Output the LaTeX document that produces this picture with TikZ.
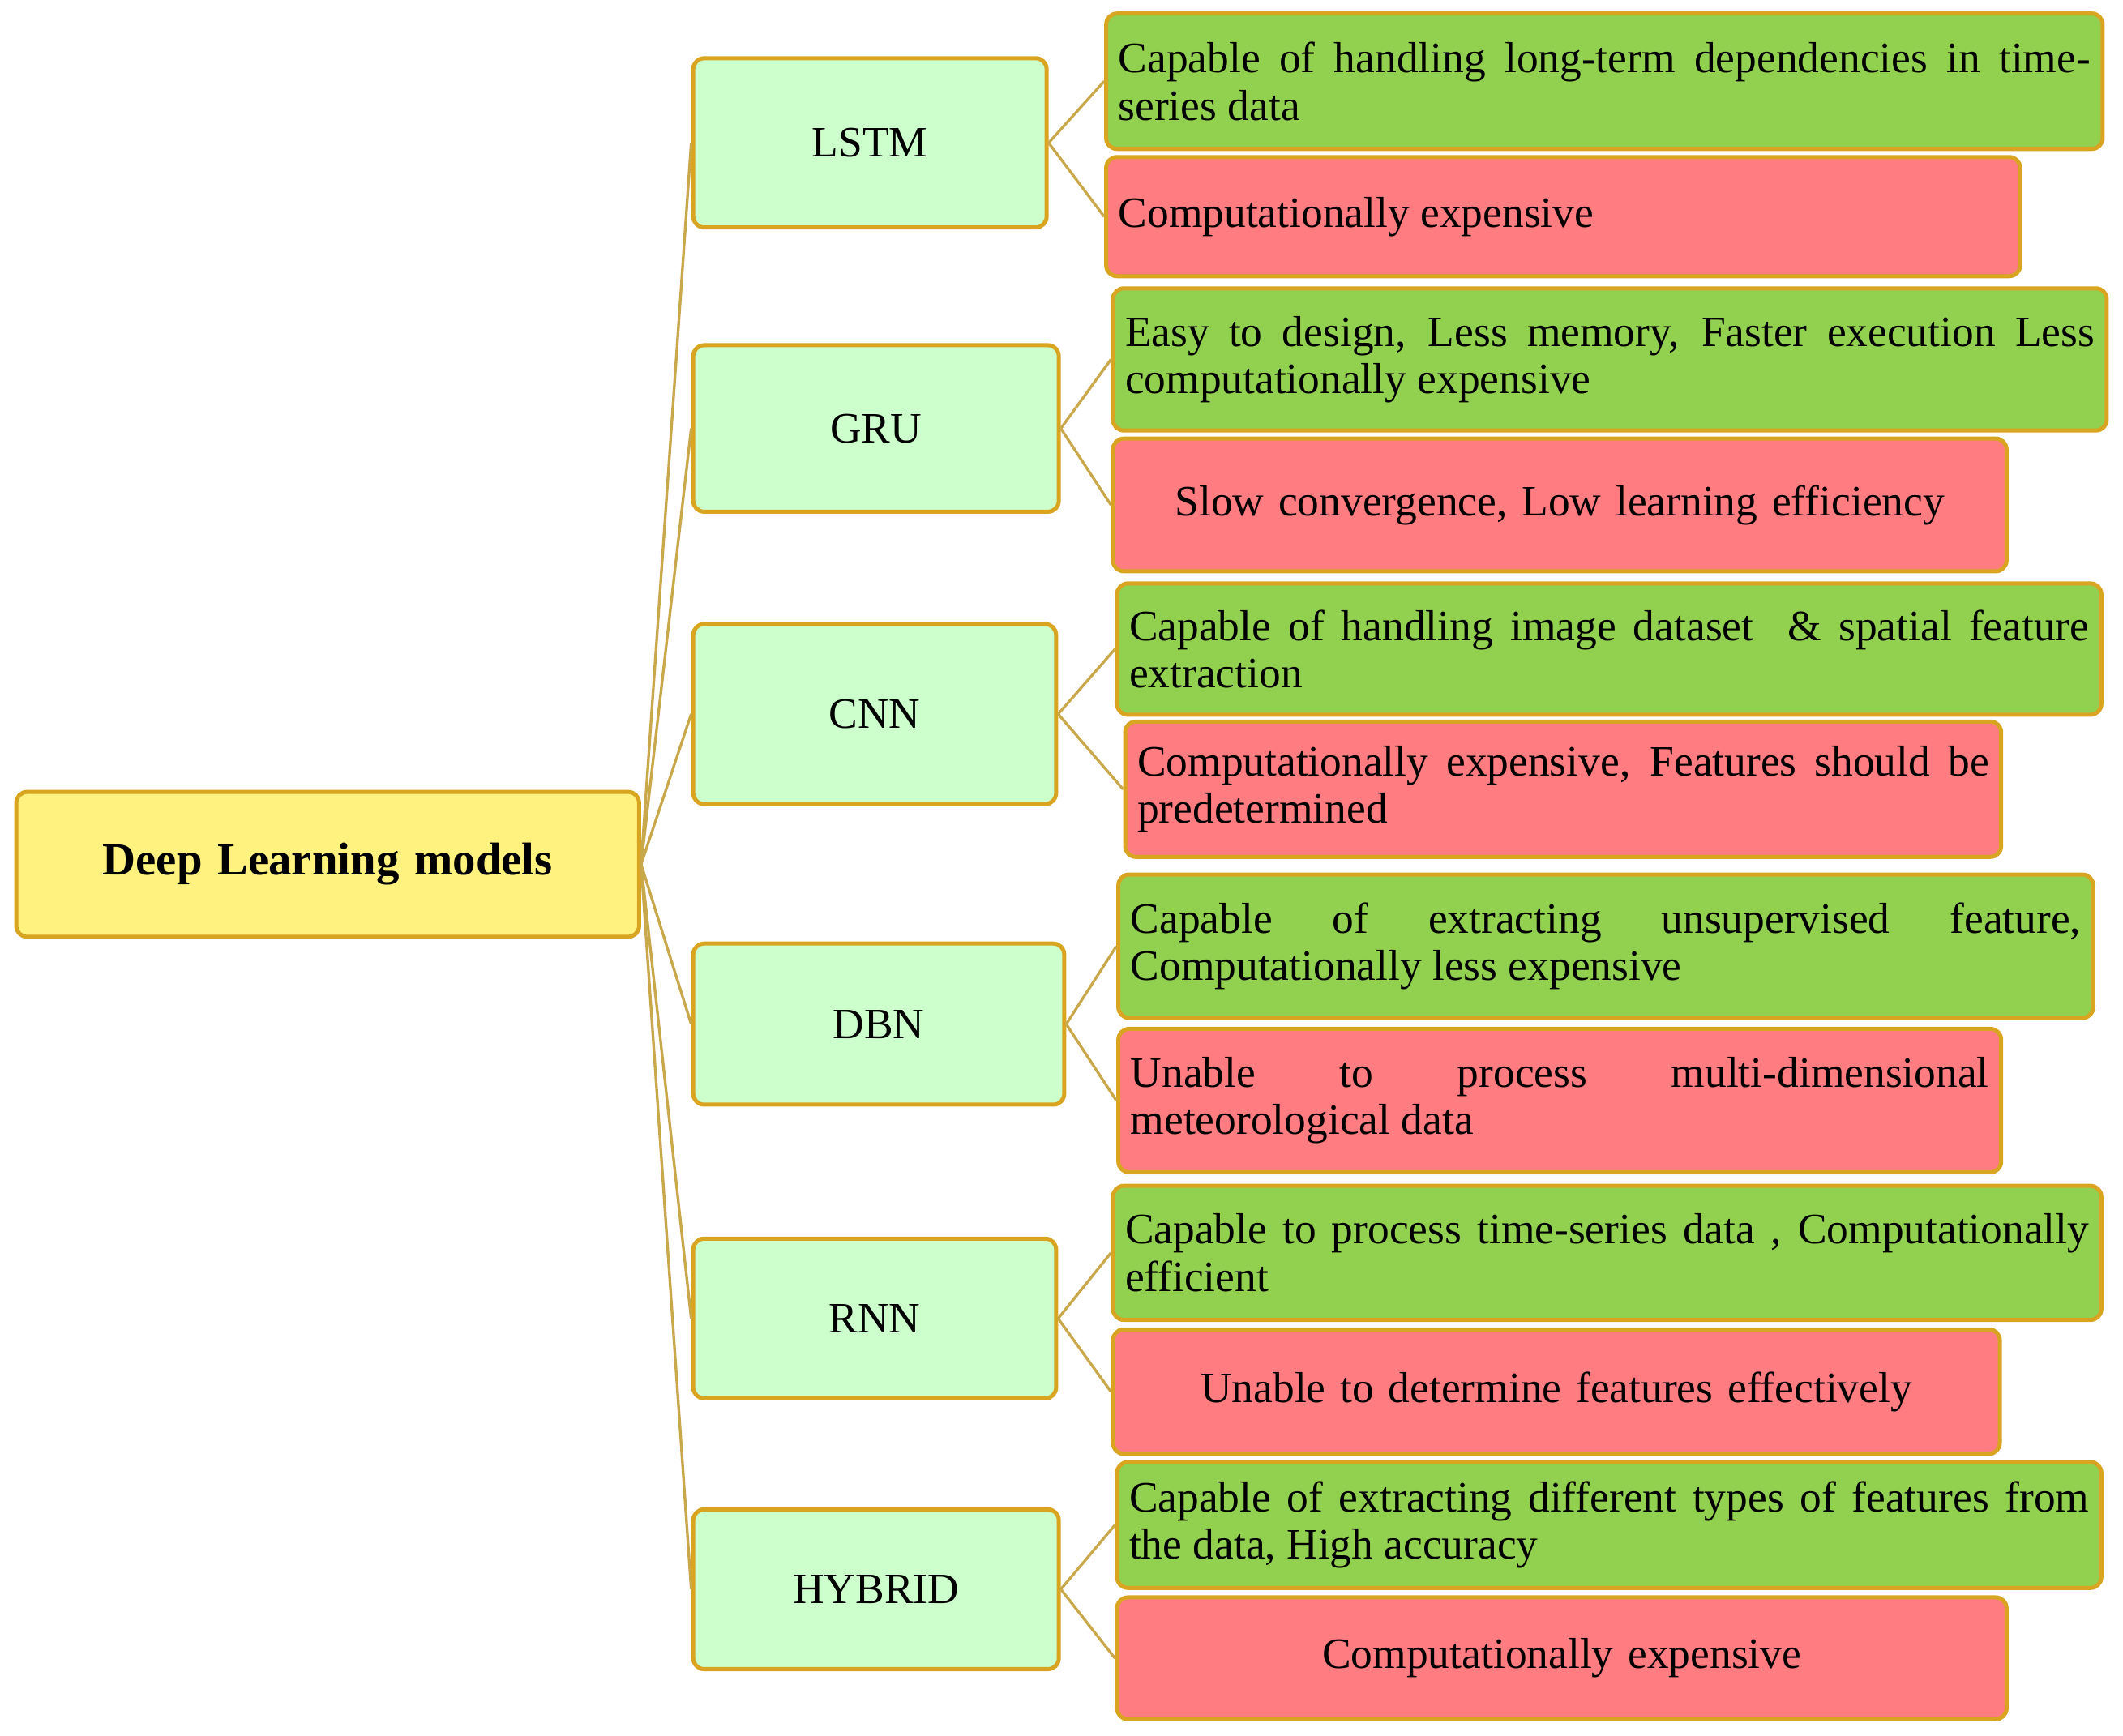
\documentclass[tikz,border=0pt]{standalone}
\usepackage{fontspec}
\setmainfont{Liberation Serif}
\newfontfamily\tnr{Liberation Serif}
\definecolor{gfill}{HTML}{92D050}
\definecolor{rfill}{HTML}{FF7C80}
\definecolor{mfill}{HTML}{CCFFCC}
\definecolor{yfill}{HTML}{FFF27F}
\definecolor{bord}{HTML}{D9A520}
\definecolor{lnk}{HTML}{C9A84C}
\tikzset{
  base/.style={draw=bord,line width=1.5pt,rounded corners=4pt,inner sep=3pt,font=\tnr\fontsize{16}{17.5}\selectfont},
  root/.style={base,fill=yfill,font=\tnr\bfseries\fontsize{17}{19}\selectfont,align=center},
  mid/.style={base,fill=mfill,align=center},
  good/.style={base,fill=gfill,align=justify},
  bad/.style={base,fill=rfill,align=justify},
  badc/.style={base,fill=rfill,align=center},
  link/.style={draw=lnk,line width=1pt}
}
\newcommand{\bx}[7]{\node[#6,minimum width=#4pt,minimum height=#5pt,text width=#4pt-9pt] (#1) at (#2,#3) {\hyphenpenalty=10000 #7};}
\begin{document}
\begin{tikzpicture}[x=0.5pt,y=-0.5pt]
\useasboundingbox (0,0) rectangle (1568,1282);
\bx{root}{242}{638.5}{230}{53.5}{root}{Deep Learning models}
\bx{lstm}{642.5}{105.5}{130.5}{62.5}{mid}{LSTM}
\bx{gru}{647}{316.5}{135}{61.5}{mid}{GRU}
\bx{cnn}{646}{527.5}{134}{66.5}{mid}{CNN}
\bx{dbn}{649}{756.5}{137}{59.5}{mid}{DBN}
\bx{rnn}{646}{974}{134}{59}{mid}{RNN}
\bx{hyb}{647}{1174}{135}{59}{mid}{HYBRID}
\bx{lg}{1185}{60}{368}{50}{good}{Capable of handling long-term dependencies in time-\linebreak series data}
\bx{lr}{1154.5}{160}{337.5}{44}{bad}{Computationally expensive}
\bx{gg}{1189}{265.5}{367}{52.5}{good}{Easy to design, Less memory, Faster execution Less\linebreak computationally expensive}
\bx{gr}{1152}{373}{330}{49}{badc}{Slow convergence, Low learning efficiency}
\bx{cg}{1188.5}{479.5}{363.5}{48.5}{good}{Capable of handling image dataset \ \& spatial feature\linebreak extraction}
\bx{cr}{1154.5}{583}{323.5}{50}{bad}{Computationally expensive, Features should be\linebreak predetermined}
\bx{dg}{1186}{699}{360}{53}{good}{Capable of extracting unsupervised feature,\linebreak Computationally less expensive}
\bx{dr}{1152}{813}{326}{53}{bad}{Unable to process multi-dimensional\linebreak meteorological data}
\bx{rg}{1187}{925.5}{365}{49.5}{good}{Capable to process time-series data , Computationally\linebreak efficient}
\bx{rr}{1149.5}{1028}{327.5}{46}{badc}{Unable to determine features effectively}
\bx{hg}{1188.5}{1126.5}{363.5}{46.5}{good}{Capable of extracting different types of features from\linebreak the data, High accuracy}
\bx{hr}{1153.5}{1225}{328.5}{45}{badc}{Computationally expensive}
\foreach \m in {lstm,gru,cnn,dbn,rnn,hyb}{\draw[link] (root.east) -- (\m.west);}
\foreach \m/\a/\b in {lstm/lg/lr,gru/gg/gr,cnn/cg/cr,dbn/dg/dr,rnn/rg/rr,hyb/hg/hr}{
  \draw[link] (\m.east) -- (\a.west);
  \draw[link] (\m.east) -- (\b.west);}
\end{tikzpicture}
\end{document}
